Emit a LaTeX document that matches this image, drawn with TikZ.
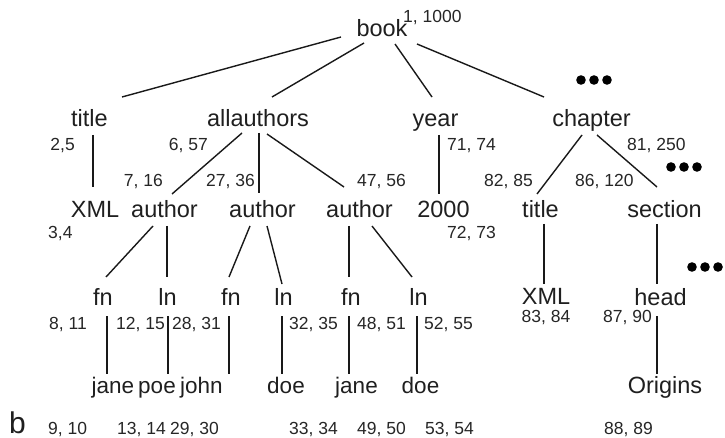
\documentclass[tikz,border=0pt]{standalone}
\usepackage{fontspec}
\setmainfont{Liberation Sans}
\begin{document}
\begin{tikzpicture}[x=1pt,y=-1pt,
  tag/.style={anchor=base, inner sep=0pt, text=black!88, font=\fontsize{23.5}{28}\selectfont},
  leaf/.style={tag, font=\fontsize{22.5}{27}\selectfont},
  num/.style={inner sep=0pt, text=black!85, font=\fontsize{17.5}{21}\selectfont},
  edge/.style={line width=1.4pt, black!90},
  more/.pic={\foreach \dx in {-13,0,13} \fill[black] (\dx,0) circle (4.8);}
]
\useasboundingbox (0,0) rectangle (725,438);

% element nodes, placed on their baselines
\node[tag] (book) at (382,37) {book};
\node[tag] (title) at (89.5,127) {title};
\node[tag] (allauthors) at (258,127) {allauthors};
\node[tag] (year) at (435.5,127) {year};
\node[tag] (chapter) at (591.5,127) {chapter};

\node[tag] (xml) at (95,218) {XML};
\node[tag] (author1) at (164.5,218) {author};
\node[tag] (author2) at (262.5,218) {author};
\node[tag] (author3) at (359.5,218) {author};
\node[tag] (y2000) at (443.5,218) {2000};
\node[tag] (ctitle) at (540.5,218) {title};
\node[tag] (section) at (664.5,218) {section};

\node[tag] (fn1) at (103,305) {fn};
\node[tag] (ln1) at (167.5,305) {ln};
\node[tag] (fn2) at (231,305) {fn};
\node[tag] (ln2) at (283.5,305) {ln};
\node[tag] (fn3) at (351,305) {fn};
\node[tag] (ln3) at (418.5,305) {ln};
\node[tag] (cxml) at (546,304) {XML};
\node[tag] (head) at (660.5,305) {head};

\node[leaf] (jane1) at (113,393) {jane};
\node[leaf] (poe) at (157,393) {poe};
\node[leaf] (john) at (201.5,393) {john};
\node[leaf] (doe1) at (286,393) {doe};
\node[leaf] (jane2) at (356.5,393) {jane};
\node[leaf] (doe2) at (420.5,393) {doe};
\node[tag] (origins) at (665,393) {Origins};

% start/end position pairs
\node[num, anchor=base west] (n-book) at (403,23) {1, 1000};
\node[num, anchor=base east] (n-title) at (75,151) {2,5};
\node[num, anchor=base east] (n-allauthors) at (208,151) {6, 57};
\node[num, anchor=base west] (n-year) at (447,151) {71, 74};
\node[num, anchor=base west] (n-chapter) at (627,151) {81, 250};
\node[num, anchor=base east] (n-author1) at (163,187) {7, 16};
\node[num, anchor=base east] (n-author2) at (255,187) {27, 36};
\node[num, anchor=base west] (n-author3) at (357,187) {47, 56};
\node[num, anchor=base east] (n-ctitle) at (533,187) {82, 85};
\node[num, anchor=base west] (n-section) at (575,187) {86, 120};
\node[num, anchor=base west] (n-xml) at (48,239) {3,4};
\node[num, anchor=base west] (n-y2000) at (447,239) {72, 73};
\node[num, anchor=base east] (n-fn1) at (87,329) {8, 11};
\node[num, anchor=base west] (n-ln1) at (116,329) {12, 15};
\node[num, anchor=base west] (n-fn2) at (172,329) {28, 31};
\node[num, anchor=base west] (n-ln2) at (289,329) {32, 35};
\node[num, anchor=base west] (n-fn3) at (357,329) {48, 51};
\node[num, anchor=base west] (n-ln3) at (424,329) {52, 55};
\node[num, anchor=base] (n-cxml) at (546,322) {83, 84};
\node[num, anchor=base east] (n-head) at (652,322) {87, 90};
\node[num, anchor=base west] (n-jane1) at (48,434) {9, 10};
\node[num, anchor=base west] (n-poe) at (117,434) {13, 14};
\node[num, anchor=base west] (n-john) at (170,434) {29, 30};
\node[num, anchor=base west] (n-doe1) at (289,434) {33, 34};
\node[num, anchor=base west] (n-jane2) at (357,434) {49, 50};
\node[num, anchor=base west] (n-doe2) at (425,434) {53, 54};
\node[num, anchor=base west] (n-origins) at (604,434) {88, 89};

\node[inner sep=0pt, anchor=base west, text=black!88, font=\fontsize{30}{34}\selectfont] (panel) at (9,433) {b};

% elided siblings
\pic at (594,80) {more};
\pic at (684,167) {more};
\pic at (705,267) {more};

% tree edges
\draw[edge] ([shift={(-41,0)}]book.base) -- ([shift={(32.5,-30)}]title.base);
\draw[edge] ([shift={(-18,6)}]book.base) -- ([shift={(14,-30)}]allauthors.base);
\draw[edge] ([shift={(13,7)}]book.base) -- ([shift={(-3.5,-30)}]year.base);
\draw[edge] ([shift={(35,7)}]book.base) -- ([shift={(-47.5,-30)}]chapter.base);

\draw[edge] ([shift={(3.5,8)}]title.base) -- ([shift={(-2,-31)}]xml.base);
\draw[edge] ([shift={(-16,6)}]allauthors.base) -- ([shift={(7.5,-24)}]author1.base);
\draw[edge] ([shift={(1,6)}]allauthors.base) -- ([shift={(-3.5,-25)}]author2.base);
\draw[edge] ([shift={(9,7)}]allauthors.base) -- ([shift={(-15.5,-31)}]author3.base);
\draw[edge] ([shift={(3.5,8)}]year.base) -- ([shift={(-4.5,-24)}]y2000.base);
\draw[edge] ([shift={(-9.5,8)}]chapter.base) -- ([shift={(-3.5,-24)}]ctitle.base);
\draw[edge] ([shift={(5.5,8)}]chapter.base) -- ([shift={(-7.5,-31)}]section.base);

\draw[edge] ([shift={(-11.5,8)}]author1.base) -- ([shift={(3,-28)}]fn1.base);
\draw[edge] ([shift={(2.5,8)}]author1.base) -- ([shift={(-0.5,-28)}]ln1.base);
\draw[edge] ([shift={(-12.5,8)}]author2.base) -- ([shift={(-2,-28)}]fn2.base);
\draw[edge] ([shift={(4.5,8)}]author2.base) -- ([shift={(-1.5,-21)}]ln2.base);
\draw[edge] ([shift={(-10.5,8)}]author3.base) -- ([shift={(-2,-28)}]fn3.base);
\draw[edge] ([shift={(12.5,8)}]author3.base) -- ([shift={(-6.5,-28)}]ln3.base);
\draw[edge] ([shift={(3.5,6)}]ctitle.base) -- ([shift={(-2,-20)}]cxml.base);
\draw[edge] ([shift={(-7.5,6)}]section.base) -- ([shift={(-3.5,-21)}]head.base);

\draw[edge] ([shift={(4,11)}]fn1.base) -- ([shift={(-6,-19)}]jane1.base);
\draw[edge] ([shift={(0.5,11)}]ln1.base) -- ([shift={(11,-19)}]poe.base);
\draw[edge] ([shift={(-2,11)}]fn2.base) -- ([shift={(27.5,-19)}]john.base);
\draw[edge] ([shift={(-1.5,11)}]ln2.base) -- ([shift={(-4,-19)}]doe1.base);
\draw[edge] ([shift={(-2,11)}]fn3.base) -- ([shift={(-7.5,-19)}]jane2.base);
\draw[edge] ([shift={(-1.5,11)}]ln3.base) -- ([shift={(-3.5,-19)}]doe2.base);
\draw[edge] ([shift={(-3.5,11)}]head.base) -- ([shift={(-8,-19)}]origins.base);
\end{tikzpicture}
\end{document}
